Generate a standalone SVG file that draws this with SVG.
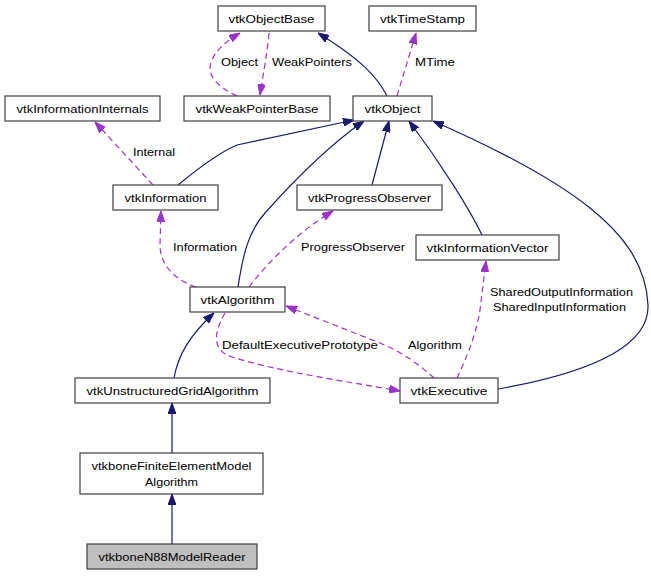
<svg xmlns="http://www.w3.org/2000/svg" width="651" height="576" viewBox="0 0 651 576">
<style>
.box{fill:#ffffff;stroke:#404040;stroke-width:1.2}
.sel{fill:#bfbfbf;stroke:#404040;stroke-width:1.2}
text{font-family:"Liberation Sans",Arial,sans-serif;font-size:11.5px;fill:#000000}
.n{text-anchor:middle}
.inh{fill:none;stroke:#191970;stroke-width:1.2}
.use{fill:none;stroke:#9a32cd;stroke-width:1.2;stroke-dasharray:6,4}
</style>
<defs>
<marker id="ai" markerUnits="userSpaceOnUse" viewBox="0 0 11 8" markerWidth="11" markerHeight="8" refX="11" refY="4" orient="auto"><path d="M0,0 L11,4 L0,8 z" fill="#191970" stroke="#191970"/></marker>
<marker id="au" markerUnits="userSpaceOnUse" viewBox="0 0 11 8" markerWidth="11" markerHeight="8" refX="11" refY="4" orient="auto"><path d="M0,0 L11,4 L0,8 z" fill="#9a32cd" stroke="#9a32cd"/></marker>
</defs>
<g id="connectors">
<path class="inh" marker-end="url(#ai)" d="M387,96 C378,78 362,60 318,33"/>
<path class="use" marker-end="url(#au)" d="M397,96 L416,33"/>
<path class="use" marker-end="url(#au)" d="M237,96 C218,87 205,75 212,60 C216,51 223,43 240,33"/>
<path class="use" marker-end="url(#au)" d="M269,33 C267,55 263,75 260,95"/>
<path class="inh" marker-end="url(#ai)" d="M178,185 C195,171 220,152 237,145 L354,120"/>
<path class="use" marker-end="url(#au)" d="M153,185 L95,122"/>
<path class="inh" marker-end="url(#ai)" d="M238,287 C243,255 248,232 265,213 C290,185 325,148 364,121"/>
<path class="inh" marker-end="url(#ai)" d="M372,185 L389,121"/>
<path class="inh" marker-end="url(#ai)" d="M482,235 C470,210 442,165 409,121"/>
<path class="inh" marker-end="url(#ai)" d="M498,389 C560,378 650,355 648,305 C646,262 620,232 590,208 C550,176 490,146 433,121"/>
<path class="use" marker-end="url(#au)" d="M249,287 C268,262 298,232 333,211"/>
<path class="use" marker-end="url(#au)" d="M196,287 C175,280 160,265 160,245 L161,211"/>
<path class="use" marker-end="url(#au)" d="M434,378 C420,365 402,352 380,343 L286,306"/>
<path class="use" marker-end="url(#au)" d="M225,313 C215,330 210,350 232,357 C280,372 350,382 400,391"/>
<path class="use" marker-end="url(#au)" d="M457,378 C465,360 475,340 480,310 L486,261"/>
<path class="inh" marker-end="url(#ai)" d="M174,378 C178,355 190,335 214,313"/>
<path class="inh" marker-end="url(#ai)" d="M172,453 L172,403"/>
<path class="inh" marker-end="url(#ai)" d="M172,544 L172,494"/>
<text x="239.5" y="66" class="n" textLength="37" lengthAdjust="spacingAndGlyphs">Object</text>
<text x="312" y="66" class="n" textLength="80" lengthAdjust="spacingAndGlyphs">WeakPointers</text>
<text x="435" y="66" class="n" textLength="40" lengthAdjust="spacingAndGlyphs">MTime</text>
<text x="154" y="156" class="n" textLength="42" lengthAdjust="spacingAndGlyphs">Internal</text>
<text x="205" y="251" class="n" textLength="64" lengthAdjust="spacingAndGlyphs">Information</text>
<text x="353" y="251" class="n" textLength="104" lengthAdjust="spacingAndGlyphs">ProgressObserver</text>
<text x="561.5" y="296" class="n" textLength="143" lengthAdjust="spacingAndGlyphs">SharedOutputInformation</text>
<text x="559.5" y="311" class="n" textLength="133" lengthAdjust="spacingAndGlyphs">SharedInputInformation</text>
<text x="435" y="349" class="n" textLength="54" lengthAdjust="spacingAndGlyphs">Algorithm</text>
<text x="300" y="349" class="n" textLength="156" lengthAdjust="spacingAndGlyphs">DefaultExecutivePrototype</text>
</g>
<g id="vtkObjectBase"><rect class="box" x="218" y="6" width="107" height="25"/><text x="271.5" y="23" class="n" textLength="86" lengthAdjust="spacingAndGlyphs">vtkObjectBase</text></g>
<g id="vtkTimeStamp"><rect class="box" x="369" y="6" width="107" height="25"/><text x="422.5" y="23" class="n" textLength="85" lengthAdjust="spacingAndGlyphs">vtkTimeStamp</text></g>
<g id="vtkInformationInternals"><rect class="box" x="5" y="96" width="155" height="25"/><text x="82.5" y="113" class="n" textLength="132" lengthAdjust="spacingAndGlyphs">vtkInformationInternals</text></g>
<g id="vtkWeakPointerBase"><rect class="box" x="184" y="96" width="146" height="25"/><text x="257" y="113" class="n" textLength="123" lengthAdjust="spacingAndGlyphs">vtkWeakPointerBase</text></g>
<g id="vtkObject"><rect class="box" x="353" y="96" width="79" height="25"/><text x="392.5" y="113" class="n" textLength="56" lengthAdjust="spacingAndGlyphs">vtkObject</text></g>
<g id="vtkInformation"><rect class="box" x="113" y="185" width="105" height="25"/><text x="165.5" y="202" class="n" textLength="82" lengthAdjust="spacingAndGlyphs">vtkInformation</text></g>
<g id="vtkProgressObserver"><rect class="box" x="297" y="185" width="145" height="25"/><text x="369.5" y="202" class="n" textLength="123" lengthAdjust="spacingAndGlyphs">vtkProgressObserver</text></g>
<g id="vtkInformationVector"><rect class="box" x="416" y="235" width="143" height="25"/><text x="487.5" y="252" class="n" textLength="122" lengthAdjust="spacingAndGlyphs">vtkInformationVector</text></g>
<g id="vtkAlgorithm"><rect class="box" x="190" y="287" width="95" height="25"/><text x="237.5" y="304" class="n" textLength="74" lengthAdjust="spacingAndGlyphs">vtkAlgorithm</text></g>
<g id="vtkUnstructuredGridAlgorithm"><rect class="box" x="75" y="378" width="195" height="25"/><text x="172.5" y="395" class="n" textLength="172" lengthAdjust="spacingAndGlyphs">vtkUnstructuredGridAlgorithm</text></g>
<g id="vtkExecutive"><rect class="box" x="400" y="378" width="98" height="25"/><text x="449" y="395" class="n" textLength="77" lengthAdjust="spacingAndGlyphs">vtkExecutive</text></g>
<g id="vtkboneFiniteElementModelAlgorithm"><rect class="box" x="80" y="453" width="183" height="41"/><text x="171.5" y="470" class="n" textLength="160" lengthAdjust="spacingAndGlyphs">vtkboneFiniteElementModel</text><text x="171.5" y="486" class="n" textLength="53" lengthAdjust="spacingAndGlyphs">Algorithm</text></g>
<g id="vtkboneN88ModelReader"><rect class="sel" x="87" y="544" width="170" height="25"/><text x="172" y="561" class="n" textLength="147" lengthAdjust="spacingAndGlyphs">vtkboneN88ModelReader</text></g>
</svg>
